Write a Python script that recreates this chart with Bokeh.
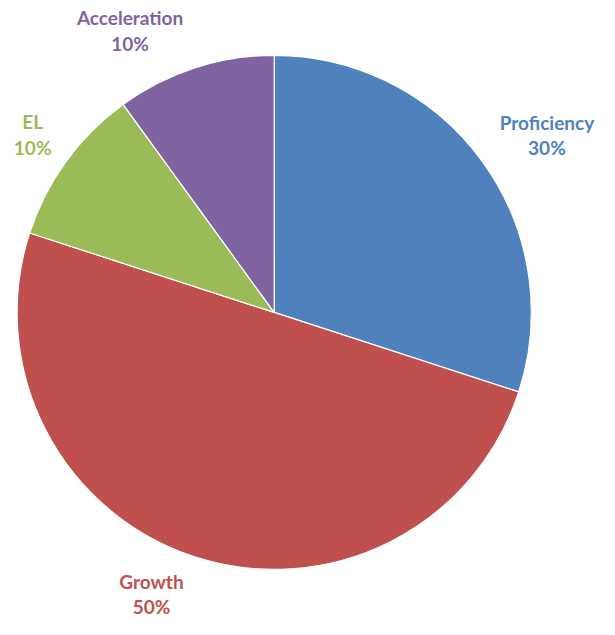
import math
from bokeh.plotting import figure
from bokeh.models import Range1d, ColumnDataSource
from bokeh.core.properties import value
from bokeh.embed import file_html
from bokeh.resources import INLINE

# ---- data ----
categories = ["Proficiency", "Growth", "EL", "Acceleration"]
shares = [30, 50, 10, 10]
colors = ["#4F81BD", "#C0504D", "#9BBB59", "#8064A2"]

# ---- layout (reference pixel coordinates; y measured from bottom) ----
W, H = 599, 619
RW, RH = 615, 635
cx, cy, r = 281, RH - 320, 264
label_x = [561, 155, 33, 133]
label_y1 = [RH - 125, RH - 596, RH - 124, RH - 17]
label_y2 = [RH - 151, RH - 622, RH - 151, RH - 44]

total = sum(shares)
starts, ends = [], []
a = math.pi / 2
for s in shares:
    b = a - 2 * math.pi * s / total
    starts.append(b)
    ends.append(a)
    a = b

src = ColumnDataSource(dict(
    cat=categories, start=starts, end=ends, color=colors,
    pct=[f"{s}%" for s in shares],
    lx=label_x, ly1=label_y1, ly2=label_y2,
))

p = figure(width=W, height=H, output_backend="svg", toolbar_location=None,
           x_range=Range1d(0, RW), y_range=Range1d(0, RH),
           min_border=0)
p.axis.visible = False
p.grid.visible = False
p.outline_line_color = None
p.background_fill_color = "white"

p.wedge(x=cx, y=cy, radius=r, start_angle="start", end_angle="end",
        fill_color="color", line_color="white", line_width=1.2, source=src)

font = value("Lato")
p.text(x="lx", y="ly1", text="cat", text_color="color", source=src,
       text_font=font, text_font_style="bold", text_font_size="19px",
       text_align="center", text_baseline="middle")
p.text(x="lx", y="ly2", text="pct", text_color="color", source=src,
       text_font=font, text_font_style="bold", text_font_size="19px",
       text_align="center", text_baseline="middle")

open("out.html", "w").write(file_html(p, INLINE))
